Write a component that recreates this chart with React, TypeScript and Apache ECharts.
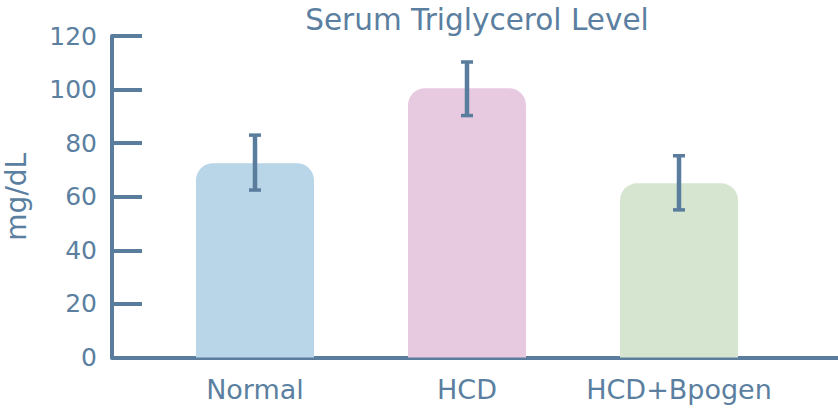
import React, { useEffect, useRef } from "react";
import * as echarts from "echarts";

const categories = ["Normal", "HCD", "HCD+Bpogen"];
const means = [72.5, 100.5, 65];
const errLow = [62.5, 90.3, 55.1];
const errHigh = [83, 110.3, 75.3];
const barColors = ["#b9d5e8", "#e7c9e0", "#d5e5cf"];
const yTicks = [0, 20, 40, 60, 80, 100, 120];

const AXIS = "#5a7d9e";
const TEXT = "#5b7fa0";
const FONT = "DejaVu Sans";

export default function App() {
  const ref = useRef<HTMLDivElement>(null);
  useEffect(() => {
    if (!ref.current) return;
    const chart = echarts.init(ref.current, undefined, { renderer: "svg" });
    const option: any = {
      animation: false,
      backgroundColor: "#ffffff",
      title: {
        text: "Serum Triglycerol Level",
        left: 472,
        textAlign: "center",
        top: 0,
        textStyle: { color: TEXT, fontFamily: FONT, fontSize: 29.5, fontWeight: "normal" },
      },
      grid: [
        { left: 149, right: 53, top: 36, bottom: 54.5, outerBoundsMode: "none", containLabel: false },
        { left: 112, right: 0, top: 36, bottom: 54.5, outerBoundsMode: "none", containLabel: false },
      ],
      xAxis: [
        {
          type: "category",
          gridIndex: 0,
          data: categories,
          axisLine: { show: false },
          axisTick: { show: false },
          axisLabel: { color: TEXT, fontFamily: FONT, fontSize: 27, margin: 18, interval: 0, hideOverlap: false },
        },
        {
          type: "value",
          gridIndex: 1,
          min: 0,
          max: 1,
          axisLine: { show: true, lineStyle: { color: AXIS, width: 4 } },
          axisTick: { show: false },
          axisLabel: { show: false },
          splitLine: { show: false },
        },
      ],
      yAxis: [
        { type: "value", gridIndex: 0, min: 0, max: 120, show: false },
        {
          type: "value",
          gridIndex: 1,
          min: 0,
          max: 120,
          interval: 20,
          name: "mg/dL",
          nameLocation: "middle",
          nameGap: 82,
          nameTextStyle: { color: TEXT, fontFamily: FONT, fontSize: 28 },
          axisLine: { show: true, lineStyle: { color: AXIS, width: 4 } },
          axisTick: { show: true, inside: true, length: 30, lineStyle: { color: AXIS, width: 4 } },
          axisLabel: {
            color: TEXT,
            fontFamily: FONT,
            fontSize: 25,
            margin: 15,
            formatter: (v: number) => (yTicks.includes(v) ? String(v) : ""),
          },
          splitLine: { show: false },
        },
      ],
      series: [
        {
          type: "bar",
          xAxisIndex: 0,
          yAxisIndex: 0,
          barWidth: 118,
          data: means.map((v, i) => ({ value: v, itemStyle: { color: barColors[i] } })),
          itemStyle: { borderRadius: [17, 17, 0, 0] },
          z: 2,
        },
        {
          type: "custom",
          xAxisIndex: 0,
          yAxisIndex: 0,
          z: 5,
          data: categories.map((_, i) => [i, errLow[i], errHigh[i]]),
          renderItem: (params: any, api: any) => {
            const x = api.value(0);
            const lo = api.coord([x, api.value(1)]);
            const hi = api.coord([x, api.value(2)]);
            const cx = lo[0];
            const half = 6;
            return {
              type: "group",
              children: [
                { type: "line", shape: { x1: cx, y1: hi[1], x2: cx, y2: lo[1] }, style: { stroke: AXIS, lineWidth: 4.5 } },
                { type: "line", shape: { x1: cx - half, y1: hi[1], x2: cx + half, y2: hi[1] }, style: { stroke: AXIS, lineWidth: 3.5 } },
                { type: "line", shape: { x1: cx - half, y1: lo[1], x2: cx + half, y2: lo[1] }, style: { stroke: AXIS, lineWidth: 3.5 } },
              ],
            };
          },
        },
      ],
    };
    chart.setOption(option);
    return () => chart.dispose();
  }, []);
  return (
    <div
      ref={ref}
      style={{ position: "fixed", left: 0, top: 0, width: 838, height: 412, background: "#fff" }}
    />
  );
}
